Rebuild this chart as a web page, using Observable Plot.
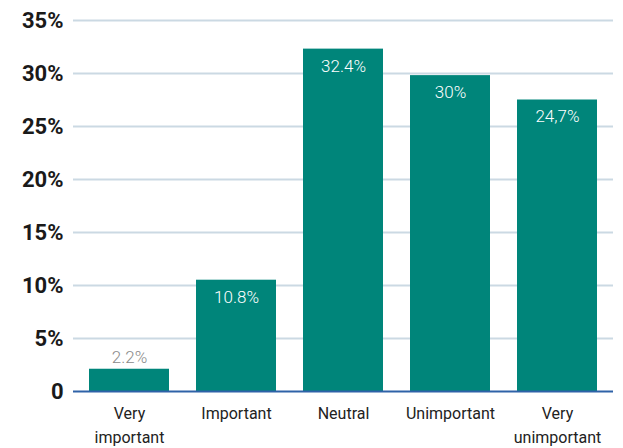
<!DOCTYPE html>
<html>
<head>
<meta charset="utf-8">
<script src="https://cdn.jsdelivr.net/npm/d3@7"></script>
<script src="https://cdn.jsdelivr.net/npm/@observablehq/plot@0.6"></script>
<style>
  html, body { margin: 0; padding: 0; background: #fff; }
  #chart { width: 623px; height: 448px; }
</style>
</head>
<body>
<div id="chart"></div>
<script>
const categories = ["Very\nimportant", "Important", "Neutral", "Unimportant", "Very\nunimportant"];
const values = [2.1, 10.5, 32.3, 29.8, 27.5];
const labels = ["2.2%", "10.8%", "32.4%", "30%", "24,7%"];
const yTicks = [0, 5, 10, 15, 20, 25, 30, 35];

const data = categories.map((c, i) => ({category: c, value: values[i], label: labels[i]}));
const small = data.filter(d => d.value < 5);
const big = data.filter(d => d.value >= 5);

const font = "Roboto, 'Noto Sans', sans-serif";

const chart = Plot.plot({
  width: 623,
  height: 448,
  marginLeft: 73,
  marginRight: 10,
  marginTop: 20,
  marginBottom: 57,
  style: {fontFamily: font, background: "#fff", overflow: "visible"},
  x: {domain: categories, paddingInner: 0.25, paddingOuter: 0.13, label: null, axis: null},
  y: {domain: [0, 35], label: null, axis: null},
  marks: [
    Plot.ruleY(yTicks.filter(t => t > 0), {stroke: "#cbd9e3", strokeWidth: 2}),
    Plot.barY(data, {x: "category", y: "value", fill: "#00857a"}),
    Plot.ruleY([0], {stroke: "#2f62a8", strokeWidth: 2}),
    Plot.text(big, {x: "category", y: "value", text: "label", dy: 17, fill: "#ffffff", fontSize: 17, fontWeight: 300}),
    Plot.text(small, {x: "category", y: "value", text: "label", dy: -12, fill: "#8a8a8a", fontSize: 17, fontWeight: 300}),
    Plot.axisY({ticks: yTicks, tickSize: 0, tickPadding: 10, label: null,
      tickFormat: d => d === 0 ? "0" : d + "%",
      fontSize: 22, fontWeight: "bold", fill: "#1a1a1a", textAnchor: "end"}),
    Plot.axisX({tickSize: 0, tickPadding: 10, label: null, fontSize: 16, fill: "#222", lineHeight: 1.5})
  ]
});
document.getElementById("chart").appendChild(chart);
</script>
</body>
</html>
